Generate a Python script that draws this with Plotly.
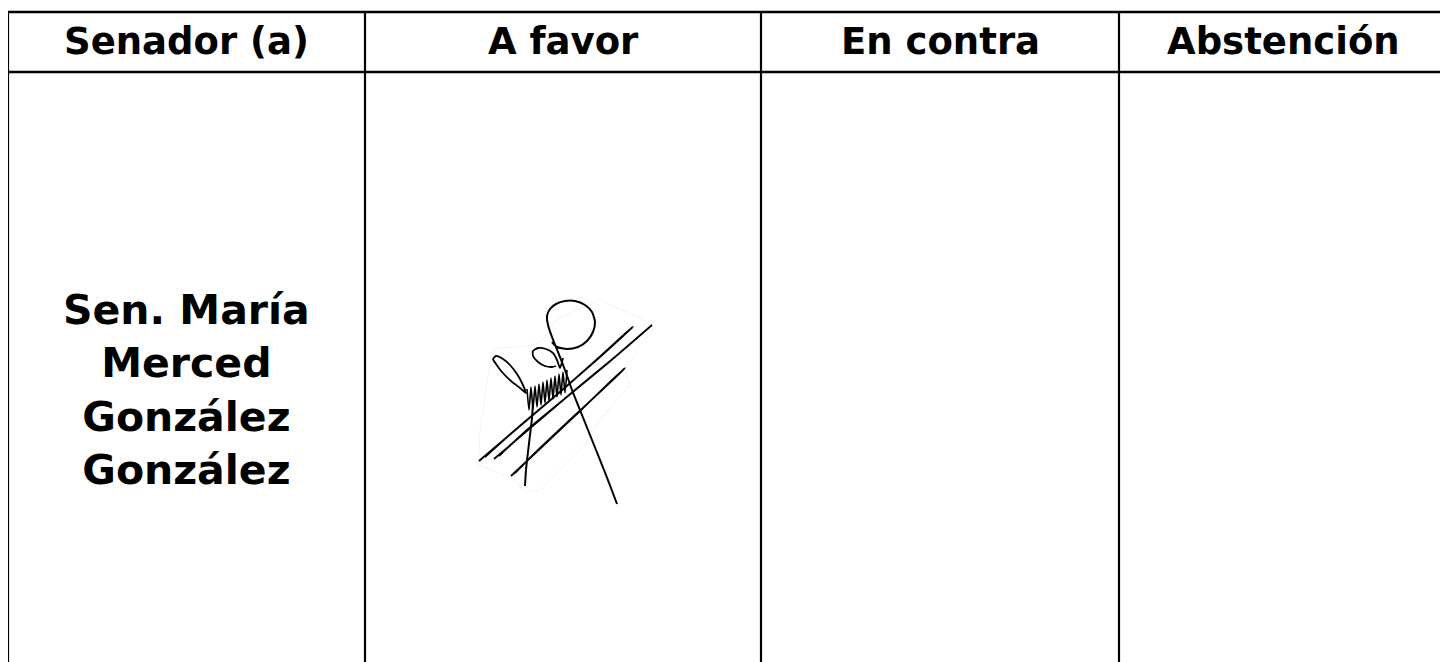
import plotly.graph_objects as go

# ---- table content ----
columns = ["Senador (a)", "A favor", "En contra", "Abstención"]
senator_lines = ["Sen. María", "Merced", "González", "González"]
vote_column = "A favor"

# table geometry in page pixels (column edges / row edges)
column_edges = [8, 365, 761, 1119, 1470]
row_edges = [12, 72, 700]

# signature strokes (pixel paths of the handwritten signature)
sig_long_stroke_x = [617, 611, 604, 596, 588, 580, 572, 565, 558, 552, 548, 547, 550, 556, 565, 575, 585, 592, 595, 593, 587, 578, 567, 557, 552]
sig_long_stroke_y = [504, 488, 470, 450, 430, 410, 390, 370, 352, 337, 325, 316, 309, 304, 301, 301, 305, 312, 322, 332, 341, 347, 349, 347, 342]
sig_left_loop_x = [526, 520, 511, 502, 496, 493, 496, 503, 510, 517, 522, 526]
sig_left_loop_y = [393, 388, 381, 372, 364, 359, 356, 359, 365, 374, 383, 393]
sig_small_loop_x = [556, 552, 545, 538, 533, 533, 538, 546, 553, 557, 560, 563]
sig_small_loop_y = [366, 367, 366, 362, 356, 351, 348, 349, 353, 360, 368, 358]
sig_scribble_x = [527, 529, 531, 533, 535, 537, 539, 541, 543, 545, 547, 549, 551, 553, 555, 557, 559, 561, 563, 565, 567]
sig_scribble_y = [389, 410, 387, 409, 386, 407, 384, 405, 382, 403, 380, 401, 378, 399, 376, 397, 374, 395, 372, 393, 370]
sig_diag_a_x = [479, 520, 560, 600, 633, 627, 594, 554, 514, 485]
sig_diag_a_y = [461, 426, 392, 357, 327, 332, 362, 397, 431, 457]
sig_diag_b_x = [494, 535, 575, 615, 652, 645, 608, 568, 528, 499]
sig_diag_b_y = [459, 424, 390, 357, 325, 331, 363, 396, 429, 456]
sig_diag_c_x = [511, 545, 580, 610, 625, 619, 602, 572, 538, 515]
sig_diag_c_y = [476, 444, 411, 382, 368, 374, 390, 418, 450, 473]
sig_descender_x = [533, 532, 530, 528, 526, 525]
sig_descender_y = [403, 418, 435, 452, 470, 486]
sig_shadow_x = [492, 500, 530, 543, 555, 600, 640, 655, 640, 625, 630, 600, 585, 560, 540, 525, 512, 492, 478, 480, 492]
sig_shadow_y = [350, 348, 346, 340, 320, 300, 318, 328, 345, 370, 385, 420, 445, 470, 490, 492, 478, 470, 465, 430, 350]

PAGE_W, PAGE_H = 1448, 662
BODY_MARGIN = 8  # default page margin around the plot
line_color = "#000000"
font_family = "Verdana, 'DejaVu Sans', sans-serif"

fig = go.Figure()

# faint background patch of the scanned signature
fig.add_trace(go.Scatter(x=sig_shadow_x, y=sig_shadow_y, mode="lines",
                         line=dict(color="#f3f3f3", width=1), hoverinfo="skip", showlegend=False))

# horizontal grid lines
for y in row_edges:
    fig.add_trace(go.Scatter(x=[column_edges[0], column_edges[-1]], y=[y, y], mode="lines",
                             line=dict(color=line_color, width=2.4), hoverinfo="skip", showlegend=False))
# vertical grid lines
for x in column_edges:
    fig.add_trace(go.Scatter(x=[x, x], y=[row_edges[0], row_edges[-1]], mode="lines",
                             line=dict(color=line_color, width=2.2), hoverinfo="skip", showlegend=False))

# header labels
for i, name in enumerate(columns):
    right = min(column_edges[i + 1], PAGE_W)
    cx = (column_edges[i] + right) / 2
    fig.add_annotation(x=cx, y=(row_edges[0] + row_edges[1]) / 2 - 1, text="<b>" + name + "</b>",
                       showarrow=False, xanchor="center", yanchor="middle",
                       font=dict(family=font_family, size=37, color="#000000"))

# senator name
fig.add_annotation(x=(column_edges[0] + column_edges[1]) / 2, y=390,
                   text="<b>" + "<br>".join(senator_lines) + "</b>",
                   showarrow=False, xanchor="center", yanchor="middle", align="center",
                   font=dict(family=font_family, size=41, color="#000000"))

# signature in the vote column
strokes = [
    (sig_diag_a_x, sig_diag_a_y, 1.8),
    (sig_diag_b_x, sig_diag_b_y, 1.8),
    (sig_diag_c_x, sig_diag_c_y, 1.8),
    (sig_long_stroke_x, sig_long_stroke_y, 2.0),
    (sig_left_loop_x, sig_left_loop_y, 1.8),
    (sig_small_loop_x, sig_small_loop_y, 1.8),
    (sig_scribble_x, sig_scribble_y, 1.6),
    (sig_descender_x, sig_descender_y, 2.0),
]
for sx, sy, w in strokes:
    fig.add_trace(go.Scatter(x=sx, y=sy, mode="lines", line=dict(color="#000000", width=w, shape="spline", smoothing=0.6),
                             hoverinfo="skip", showlegend=False, name=vote_column))

# plot area starts at the page margin; it runs past the window's right/bottom edges like the scan
fig.update_layout(
    width=PAGE_W, height=PAGE_H,
    margin=dict(l=0, r=0, t=0, b=0),
    paper_bgcolor="#ffffff", plot_bgcolor="#ffffff",
    xaxis=dict(range=[BODY_MARGIN, PAGE_W + BODY_MARGIN], visible=False, fixedrange=True),
    yaxis=dict(range=[PAGE_H + BODY_MARGIN, BODY_MARGIN], visible=False, fixedrange=True),
    showlegend=False,
)

fig.write_html("out.html", config={"displayModeBar": False})
